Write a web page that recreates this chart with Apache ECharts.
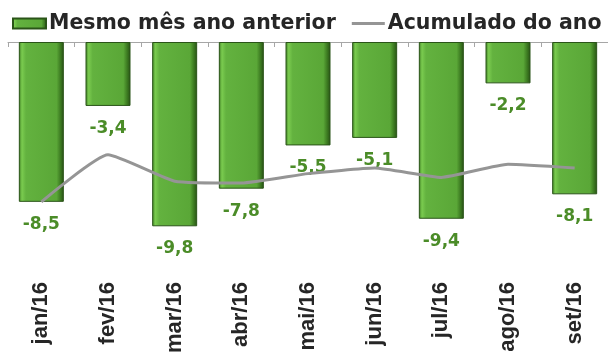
<!DOCTYPE html>
<html>
<head>
<meta charset="utf-8">
<script src="https://cdn.jsdelivr.net/npm/echarts@6/dist/echarts.min.js"></script>
<style>
  html, body { margin: 0; padding: 0; background: #fff; }
  #chart { width: 608px; height: 356px; }
</style>
</head>
<body>
<div id="chart"></div>
<script>
// Monthly change vs. same month of previous year, and year-to-date change (%)
const months = ['jan/16', 'fev/16', 'mar/16', 'abr/16', 'mai/16', 'jun/16', 'jul/16', 'ago/16', 'set/16'];
const sameMonthPrevYear = [-8.5, -3.4, -9.8, -7.8, -5.5, -5.1, -9.4, -2.2, -8.1];
const yearToDate = [-8.5, -6.0, -7.4, -7.5, -7.0, -6.7, -7.2, -6.5, -6.7];

const seriesNames = ['Mesmo mês ano anterior', 'Acumulado do ano'];

const chart = echarts.init(document.getElementById('chart'), null, { renderer: 'canvas' });

const barFill = new echarts.graphic.LinearGradient(0, 0, 1, 0, [
  { offset: 0.00, color: '#3f7f24' },
  { offset: 0.07, color: '#7acb4f' },
  { offset: 0.16, color: '#63b23f' },
  { offset: 0.84, color: '#5aa737' },
  { offset: 0.93, color: '#3b7820' },
  { offset: 1.00, color: '#274f15' }
]);

// thin horizontal stroke used as the legend key of the line series
const lineKey = 'path://M0,0 M33,10 M0,3.5 L33,3.5 L33,6.5 L0,6.5 Z';

const fmt = v => v.toFixed(1).replace('.', ',');

chart.setOption({
  animation: false,
  backgroundColor: '#ffffff',
  legend: {
    left: 12,
    top: 13,
    padding: 0,
    itemWidth: 33,
    itemHeight: 10,
    itemGap: 16,
    textStyle: {
      fontFamily: 'DejaVu Sans',
      fontWeight: 'bold',
      fontSize: 20.5,
      color: '#262626',
      padding: [0, 0, 0, -2]
    },
    data: [
      { name: seriesNames[0], icon: 'rect' },
      { name: seriesNames[1], icon: lineKey, itemStyle: { color: '#959595' } }
    ]
  },
  grid: { left: 8, right: 0, top: 42, bottom: 78, containLabel: false },
  xAxis: [
    {
      type: 'category',
      data: months,
      position: 'bottom',
      boundaryGap: true,
      axisLine: { show: false, onZero: false },
      axisTick: { show: false },
      axisLabel: {
        rotate: 90,
        margin: 5,
        fontFamily: 'Liberation Sans',
        fontWeight: 'bold',
        fontSize: 22,
        color: '#262626'
      }
    },
    {
      type: 'category',
      data: months,
      position: 'top',
      boundaryGap: true,
      axisLine: { show: true, onZero: false, lineStyle: { color: '#a6a6a6', width: 1 } },
      axisTick: { show: true, inside: true, length: 5, lineStyle: { color: '#a6a6a6' } },
      axisLabel: { show: false }
    }
  ],
  yAxis: {
    type: 'value',
    min: -12.5,
    max: 0,
    show: false,
    splitLine: { show: false }
  },
  series: [
    {
      name: seriesNames[0],
      type: 'bar',
      xAxisIndex: 0,
      data: sameMonthPrevYear,
      barWidth: 45,
      itemStyle: {
        color: barFill,
        borderColor: '#2a5418',
        borderWidth: 1
      },
      label: {
        show: true,
        position: 'bottom',
        distance: 14,
        formatter: p => fmt(p.value),
        fontFamily: 'DejaVu Sans',
        fontWeight: 'bold',
        fontSize: 17,
        color: '#4b8c28'
      },
      z: 2
    },
    {
      name: seriesNames[1],
      type: 'line',
      xAxisIndex: 0,
      data: yearToDate,
      smooth: 0.15,
      symbol: 'none',
      lineStyle: { color: '#959595', width: 3 },
      itemStyle: { color: '#959595' },
      z: 3
    }
  ]
});
</script>
</body>
</html>
